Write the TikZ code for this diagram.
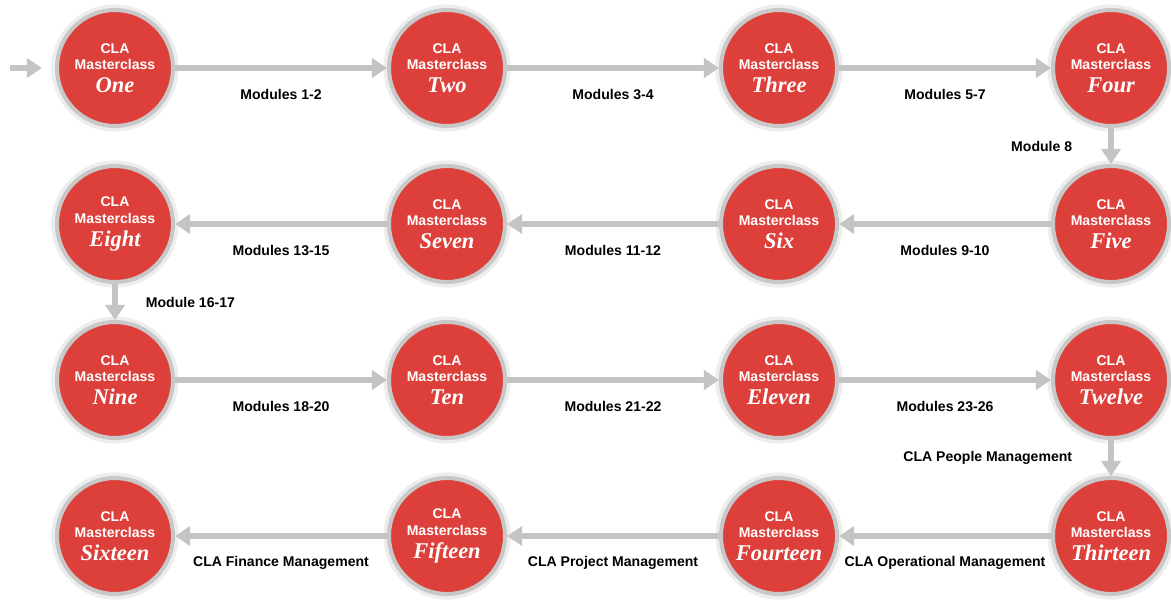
\documentclass[tikz,border=0pt]{standalone}
\usepackage{fontspec}
\setsansfont{Liberation Sans}
\newfontfamily\mcfont{Liberation Serif}
\usetikzlibrary{positioning,arrows.meta}
\definecolor{clared}{HTML}{DD403B}
\definecolor{rimgray}{HTML}{C8C8C8}
\definecolor{flowgray}{HTML}{C4C4C4}
\newcommand{\mcname}[1]{\\[4pt]{\mcfont\bfseries\itshape\fontsize{16}{16}\selectfont #1}}

\begin{document}
\begin{tikzpicture}[master/.style={circle,draw=rimgray,line width=0.1cm,fill=clared,minimum size=2.9cm,inner sep=0pt,align=center,text=white,
        font=\sffamily\bfseries\fontsize{10}{12}\selectfont,preaction={draw=black!7,line width=0.28cm}},
        flow/.style={draw=flowgray,line width=0.15cm,-{Triangle[width=0.48cm,length=0.38cm]}},
        lbl/.style={font=\sffamily\bfseries\fontsize{10}{12}\selectfont,yshift=-0.67cm},
        side/.style={font=\sffamily\bfseries\fontsize{10}{12}\selectfont},
        node distance=0.9cm and 5.3cm]
        \useasboundingbox (-2.875,1.7) rectangle (26.4,-13.3);
        \node[master] (one) at (0,0) {CLA\\Masterclass\mcname{One}};
        \node[master, right=of one] (two) {CLA\\Masterclass\mcname{Two}};
        \node[master, right=of two] (three) {CLA\\Masterclass\mcname{Three}};
        \node[master, right=of three] (four) {CLA\\Masterclass\mcname{Four}};
        \node[master, below=of four] (five) {CLA\\Masterclass\mcname{Five}};
        \node[master, left=of five] (six) {CLA\\Masterclass\mcname{Six}};
        \node[master, left=of six] (seven) {CLA\\Masterclass\mcname{Seven}};
        \node[master, left=of seven] (eight) {CLA\\Masterclass\mcname{Eight}};
        \node[master, below=of eight] (nine) {CLA\\Masterclass\mcname{Nine}};
        \node[master, right=of nine] (ten) {CLA\\Masterclass\mcname{Ten}};
        \node[master, right=of ten] (eleven) {CLA\\Masterclass\mcname{Eleven}};
        \node[master, right=of eleven] (twelve) {CLA\\Masterclass\mcname{Twelve}};
        \node[master, below=of twelve] (thirteen) {CLA\\Masterclass\mcname{Thirteen}};
        \node[master, left=of thirteen] (fourteen) {CLA\\Masterclass\mcname{Fourteen}};
        \node[master, left=of fourteen] (fifteen) {CLA\\Masterclass\mcname{Fifteen}};
        \node[master, left=of fifteen] (sixteen) {CLA\\Masterclass\mcname{Sixteen}};
        \coordinate[left=1.125cm of one] (entry);
        \draw[flow, shorten >=0.325cm] (entry) -- (one);
        \draw[flow] (one) -- node[lbl] {Modules 1-2} (two);
        \draw[flow] (two) -- node[lbl] {Modules 3-4} (three);
        \draw[flow] (three) -- node[lbl] {Modules 5-7} (four);
        \draw[flow] (four) -- node[side, left=0.78cm] {Module 8} (five);
        \draw[flow] (five) -- node[lbl] {Modules 9-10} (six);
        \draw[flow] (six) -- node[lbl] {Modules 11-12} (seven);
        \draw[flow] (seven) -- node[lbl] {Modules 13-15} (eight);
        \draw[flow] (eight) -- node[side, right=0.58cm] {Module 16-17} (nine);
        \draw[flow] (nine) -- node[lbl] {Modules 18-20} (ten);
        \draw[flow] (ten) -- node[lbl] {Modules 21-22} (eleven);
        \draw[flow] (eleven) -- node[lbl] {Modules 23-26} (twelve);
        \draw[flow] (twelve) -- node[side, left=0.78cm] {CLA People Management} (thirteen);
        \draw[flow] (thirteen) -- node[lbl] {CLA Operational Management} (fourteen);
        \draw[flow] (fourteen) -- node[lbl] {CLA Project Management} (fifteen);
        \draw[flow] (fifteen) -- node[lbl] {CLA Finance Management} (sixteen);
        \end{tikzpicture}
\end{document}
